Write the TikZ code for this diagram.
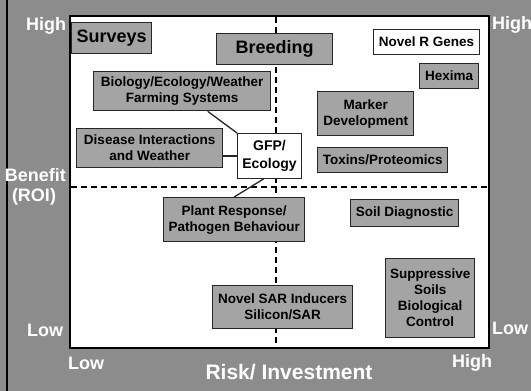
\documentclass[tikz,border=0pt]{standalone}
\usepackage{fontspec}
\setmainfont{Liberation Sans}
\definecolor{bggray}{HTML}{8C8C8C}
\definecolor{boxgray}{HTML}{A4A4A4}
\begin{document}
\begin{tikzpicture}[x=1pt,y=-1pt,
  gbox/.style={draw=black!85, line width=1.3pt, fill=boxgray, anchor=north west, align=center, inner sep=0pt,
    font=\bfseries\fontsize{13.5}{16}\selectfont},
  wbox/.style={gbox, fill=white},
  bigtxt/.style={font=\bfseries\fontsize{18}{20}\selectfont},
  axlab/.style={text=white, inner sep=0pt, font=\bfseries\fontsize{18}{21}\selectfont},
  divider/.style={line width=1.4pt, dash pattern=on 6pt off 4pt},
  link/.style={line width=1.3pt, draw=black!85}]
\useasboundingbox (0,0) rectangle (531,391);
\fill[bggray] (0,0) rectangle (531,391);
\draw[line width=1.5pt] (7,0) -- (7,391);
% plot area
\draw[fill=white, line width=1.3pt] (70,16) rectangle (489,348);
\draw[divider] (276,17) -- (276,347);
\draw[divider] (71,187) -- (488,187);
% boxes
\node[gbox, bigtxt, minimum width=80, minimum height=31] (surveys) at (71,22) {Surveys};
\node[gbox, bigtxt, minimum width=116, minimum height=31] (breeding) at (216,33) {Breeding};
\node[wbox, minimum width=106, minimum height=25, line width=1pt] (novel) at (373,29) {Novel R Genes};
\node[gbox, minimum width=59, minimum height=25] (hexima) at (419,63) {Hexima};
\node[gbox, minimum width=96, minimum height=44] (marker) at (317,91) {Marker\\Development};
\node[gbox, minimum width=130, minimum height=25] (toxins) at (317,147) {Toxins/Proteomics};
\node[wbox, minimum width=64, minimum height=45, line width=1pt, font=\bfseries\fontsize{14}{18}\selectfont] (gfp) at (237,133) {GFP/\\Ecology};
\node[gbox, minimum width=177, minimum height=39] (bio) at (93,71) {Biology/Ecology/Weather\\Farming Systems};
\node[gbox, minimum width=146, minimum height=39] (dis) at (76,128) {Disease Interactions\\and Weather};
\node[gbox, minimum width=141, minimum height=44] (plant) at (163,197) {Plant Response/\\Pathogen Behaviour};
\node[gbox, minimum width=108, minimum height=27] (soil) at (350,199) {Soil Diagnostic};
\node[gbox, minimum width=140, minimum height=43] (sar) at (212,285) {Novel SAR Inducers\\Silicon/SAR};
\node[gbox, minimum width=89, minimum height=79] (supp) at (385,258) {Suppressive\\Soils\\Biological\\Control};
% connectors
\draw[link] ([xshift=25.5pt]bio.south) -- (gfp.north west);
\draw[link] (dis.east |- gfp.west) -- (gfp.west);
\draw[link] ([xshift=-6pt]gfp.south) -- (plant.north);
% axis labels
\node[axlab] (hightl) at (46,26) {High};
\node[axlab, anchor=west] (hightr) at (492,25) {High};
\node[axlab, anchor=east] (benefit) at (66,175) {Benefit};
\node[axlab] (roi) at (34,197) {(ROI)};
\node[axlab] (lowl) at (45,330) {Low};
\node[axlab] (lowb) at (86,363) {Low};
\node[axlab, font=\bfseries\fontsize{21}{24}\selectfont] (risk) at (289,372) {Risk/ Investment};
\node[axlab] (highbr) at (472,363) {High};
\node[axlab, anchor=west] (lowr) at (492,328) {Low};
\end{tikzpicture}
\end{document}
